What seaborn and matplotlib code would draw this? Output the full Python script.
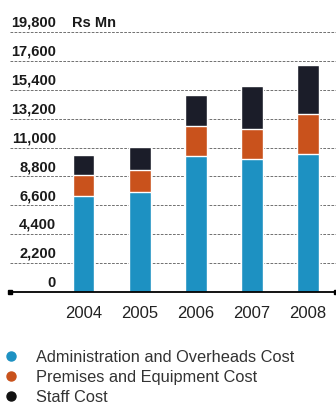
import matplotlib
matplotlib.use("Agg")
import matplotlib.pyplot as plt
from matplotlib.lines import Line2D
import numpy as np
import pandas as pd
import seaborn as sns

# Operating cost breakdown, Rs Mn
years = ["2004", "2005", "2006", "2007", "2008"]
admin_cost = [7300, 7600, 10350, 10100, 10500]
premises_cost = [1600, 1700, 2300, 2350, 3050]
staff_cost = [1500, 1750, 2350, 3250, 3700]
y_ticks = [0, 2200, 4400, 6600, 8800, 11000, 13200, 15400, 17600, 19800]
series_labels = ["Administration and Overheads Cost",
                 "Premises and Equipment Cost",
                 "Staff Cost"]
unit_label = "Rs Mn"

colors = ["#1d91c2", "#c9521c", "#1b1d29"]
legend_colors = ["#1d91c2", "#c9521c", "#111111"]

sns.set_theme(style="white")
plt.rcParams["font.family"] = ["Liberation Sans", "DejaVu Sans"]

df = pd.DataFrame({
    "year": years,
    "admin": admin_cost,
    "premises": premises_cost,
    "staff": staff_cost,
})
df["lvl2"] = df["admin"] + df["premises"]
df["lvl3"] = df["lvl2"] + df["staff"]

fig = plt.figure(figsize=(3.36, 4.12), dpi=100)
W, H = 336, 412
ax = fig.add_axes([10 / W, (H - 292) / H, 326 / W, 260 / H])

# stacked bars: draw cumulative totals from the top layer down
bar_w = 0.39
for col, c in zip(["lvl3", "lvl2", "admin"], colors[::-1]):
    sns.barplot(data=df, x="year", y=col, color=c, width=bar_w,
                saturation=1, ax=ax, zorder=3)

ax.set_xlim(-1.31, 4.5)
ax.set_ylim(0, 19800)

# dashed gridlines with value labels sitting above each line
label_font = dict(family=["Liberation Sans", "DejaVu Sans"],
                  fontsize=10.5, fontweight="bold", color="#1a1a1a")
trans = ax.get_yaxis_transform()
for v in y_ticks:
    if v > 0:
        ax.axhline(v, color="#666666", lw=0.65, ls=(0, (3, 1.5)), zorder=1)
    ax.annotate(f"{v:,}", xy=(46 / 326, v), xycoords=trans,
                xytext=(0, 3.8), textcoords="offset points",
                ha="right", va="baseline", annotation_clip=False, **label_font)
ax.annotate(unit_label, xy=(62 / 326, y_ticks[-1]), xycoords=trans,
            xytext=(0, 3.8), textcoords="offset points",
            ha="left", va="baseline", annotation_clip=False, **label_font)

# baseline with square end caps
ax.plot([-1.31, 4.5], [0, 0], color="black", lw=1.3, marker="s",
        markersize=3.2, clip_on=False, zorder=5)

for s in ax.spines.values():
    s.set_visible(False)
ax.set_yticks([])
ax.set_xlabel("")
ax.set_ylabel("")
ax.tick_params(axis="x", length=0, pad=10, labelsize=12, labelcolor="#222222")

# legend with round markers
handles = [Line2D([], [], ls="none", marker="o", markersize=6.5,
                  markerfacecolor=c, markeredgecolor=c) for c in legend_colors]
fig.legend(handles, series_labels, loc="upper left",
           bbox_to_anchor=(-4 / W, 1 - 343 / H), frameon=False,
           handlelength=1.0, handletextpad=1.05, labelspacing=0.32,
           fontsize=11.8, labelcolor="#333333", borderaxespad=0)

fig.savefig("out.png", dpi=100)
